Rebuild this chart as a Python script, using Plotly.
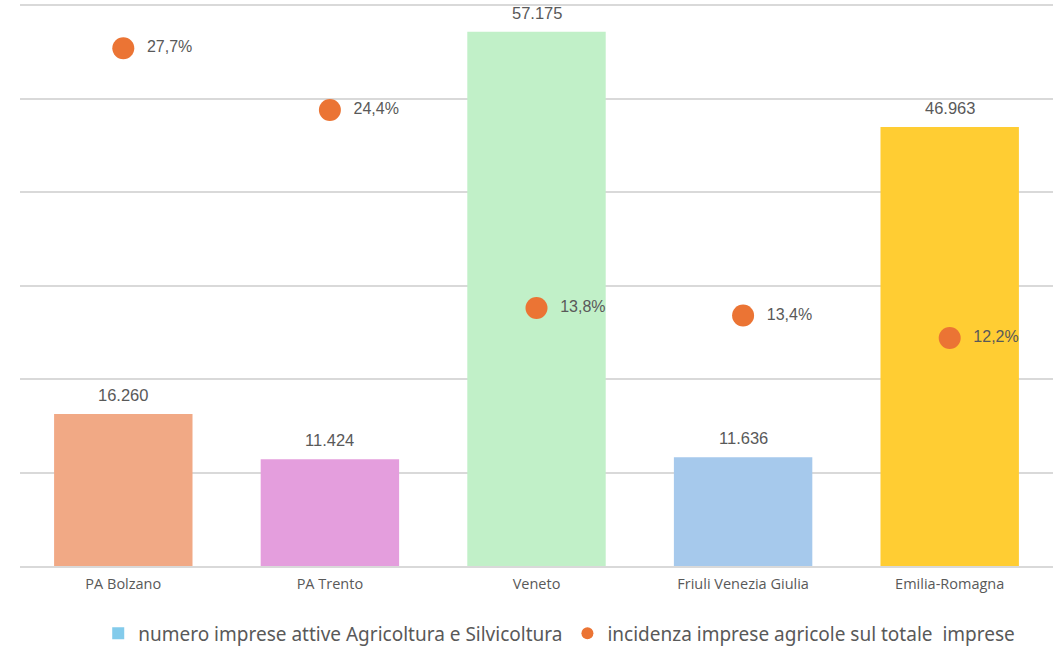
import plotly.graph_objects as go

categories = ["PA Bolzano", "PA Trento", "Veneto", "Friuli Venezia Giulia", "Emilia-Romagna"]
imprese = [16260, 11424, 57175, 11636, 46963]
incidenza = [0.277, 0.244, 0.138, 0.134, 0.122]
bar_colors = ["#F1A985", "#E49EDD", "#C1F0C8", "#A6C9EC", "#FFCD33"]

bar_name = "numero imprese attive Agricoltura e Silvicoltura"
dot_name = "incidenza imprese agricole sul totale  imprese"

def it_int(v):
    return f"{v:,}".replace(",", ".")

def it_pct(v):
    return f"{v*100:.1f}%".replace(".", ",")

fig = go.Figure()
fig.add_trace(go.Bar(
    x=categories, y=imprese, marker=dict(color=bar_colors, line=dict(width=0)),
    width=0.67, showlegend=False, hoverinfo="skip",
))
# legend proxy for bar
fig.add_trace(go.Scatter(
    x=[None], y=[None], mode="markers", name=bar_name,
    marker=dict(symbol="square", size=12, color="#83CBEB"),
))
fig.add_trace(go.Scatter(
    x=categories, y=incidenza, yaxis="y2", mode="markers+text", name=dot_name,
    marker=dict(size=22, color="#EB7434"),
    text=["  " + it_pct(v) for v in incidenza], textposition="middle right",
    textfont=dict(family="Liberation Sans, Arial", size=16, color="#595959"),
    cliponaxis=False,
))

for c, v in zip(categories, imprese):
    fig.add_annotation(x=c, y=v, text=it_int(v), showarrow=False, yshift=19,
                       font=dict(family="Liberation Sans, Arial", size=16.5, color="#595959"))

fig.update_layout(
    width=1058, height=647,
    margin=dict(l=20, r=5, t=2, b=81, autoexpand=False),
    paper_bgcolor="white", plot_bgcolor="white",
    bargap=0.33,
    xaxis=dict(showline=True, linecolor="#D9D9D9", linewidth=1.5, ticks="outside",
               ticklen=4, tickcolor="rgba(0,0,0,0)", automargin=False,
               tickfont=dict(family="Open Sans", size=14.5, color="#595959")),
    yaxis=dict(range=[0, 60350], tick0=0, dtick=10000, showgrid=True, gridcolor="#D9D9D9",
               gridwidth=1.5, showticklabels=False, zeroline=False, automargin=False),
    yaxis2=dict(range=[0, 0.30175], overlaying="y", side="right", showgrid=False,
                showticklabels=False, zeroline=False, automargin=False),
    legend=dict(orientation="h", x=0.522, xanchor="center", y=-0.086, yanchor="top",
                font=dict(family="Noto Sans", size=19, color="#595959"),
                itemsizing="constant", traceorder="normal"),
    showlegend=True,
)

fig.write_html("out.html", config={"displayModeBar": False},
               post_script="document.body.style.margin='0px';")
